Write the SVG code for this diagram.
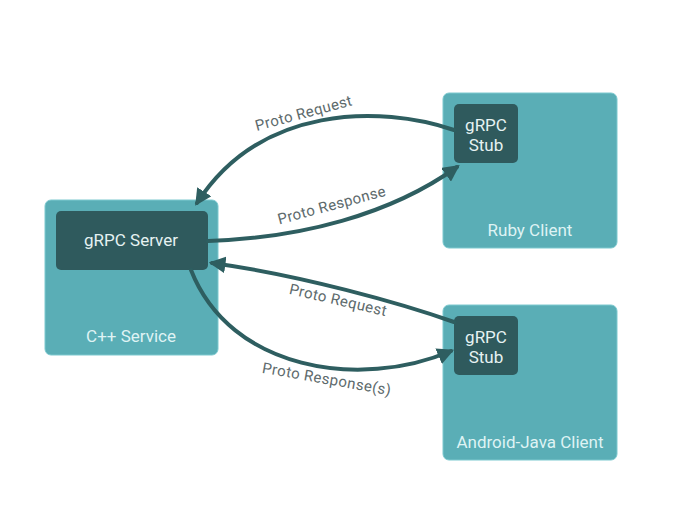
<svg xmlns="http://www.w3.org/2000/svg" width="682" height="523" viewBox="0 0 682 523">
<style>
.outer{fill:#5aaeb6;stroke:#7cc9cf;stroke-width:1}
.inner{fill:#2f5a5d}
.in-t{font-family:Roboto,"Liberation Sans",sans-serif;font-size:17px;fill:#e6f2f2;text-anchor:middle}
.out-t{font-family:Roboto,"Liberation Sans",sans-serif;font-size:17px;fill:#dff3f4;text-anchor:middle}
.lbl{font-family:Roboto,"Liberation Sans",sans-serif;font-size:15px;fill:#5d6a6c;text-anchor:middle;letter-spacing:0.4px}
.conn{fill:none;stroke:#2e5e60;stroke-width:4;stroke-linecap:round}
</style>
<defs>
<marker id="ah" viewBox="0 0 10 10" refX="8" refY="5" markerWidth="4.2" markerHeight="4.2" orient="auto" markerUnits="strokeWidth">
<path d="M0,0 L10,5 L0,10 z" fill="#2e5e60"/>
</marker>
</defs>
<rect width="682" height="523" fill="#ffffff"/>
<g id="cpp-service">
<rect class="outer" x="45" y="200" width="173" height="155" rx="6"/>
<text class="out-t" x="131" y="342">C++ Service</text>
</g>
<g id="grpc-server">
<rect class="inner" x="56" y="211" width="152" height="59" rx="5"/>
<text class="in-t" x="131" y="246">gRPC Server</text>
</g>
<g id="ruby-client">
<rect class="outer" x="443" y="93" width="174" height="155" rx="6"/>
<text class="out-t" x="530" y="236">Ruby Client</text>
</g>
<g id="ruby-stub">
<rect class="inner" x="454" y="104" width="64" height="59" rx="5"/>
<text class="in-t" x="486" y="131">gRPC</text>
<text class="in-t" x="486" y="151">Stub</text>
</g>
<g id="android-client">
<rect class="outer" x="443" y="305" width="174" height="155" rx="6"/>
<text class="out-t" x="530" y="448">Android-Java Client</text>
</g>
<g id="android-stub">
<rect class="inner" x="454" y="316" width="64" height="59" rx="5"/>
<text class="in-t" x="486" y="343">gRPC</text>
<text class="in-t" x="486" y="363">Stub</text>
</g>
<g id="connectors">
<path class="conn" d="M454,130 C380,105 260,105 197,203" marker-end="url(#ah)"/>
<path class="conn" d="M208,241 C300,238 390,215 457,167" marker-end="url(#ah)"/>
<path class="conn" d="M454,322 C400,303 300,275 212,263" marker-end="url(#ah)"/>
<path class="conn" d="M191,270 C230,370 360,390 451,351" marker-end="url(#ah)"/>
<text class="lbl" transform="translate(305,118) rotate(-15)">Proto Request</text>
<text class="lbl" transform="translate(333,210) rotate(-15)">Proto Response</text>
<text class="lbl" transform="translate(337,305) rotate(13)">Proto Request</text>
<text class="lbl" transform="translate(326,384) rotate(10)">Proto Response(s)</text>
</g>
</svg>
